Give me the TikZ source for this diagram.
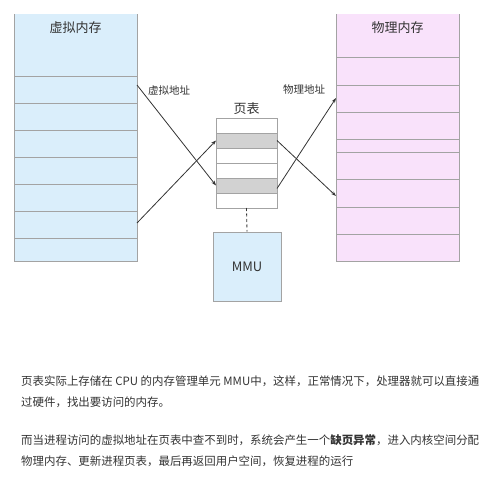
\documentclass[tikz,border=0pt]{standalone}
\usepackage{fontspec}
\setmainfont{Noto Sans CJK SC}
\usetikzlibrary{arrows.meta,calc}
\definecolor{vblue}{HTML}{DAEEFB}
\definecolor{ppink}{HTML}{F9E2FB}
\definecolor{bgray}{HTML}{A3A3A3}
\definecolor{rgray}{HTML}{D2D2D2}
\definecolor{txt}{HTML}{333333}
\tikzset{
  membox/.style={inner sep=0pt, outer sep=0pt},
  divline/.style={draw=bgray, line width=0.9pt},
  ptrow/.style={draw=bgray, line width=0.8pt, fill=white, minimum width=61pt, minimum height=15pt, inner sep=0pt, outer sep=0pt},
  ptgray/.style={ptrow, fill=rgray},
  arr/.style={draw=txt, line width=0.8pt, -{Stealth[length=5pt,width=3.6pt]}},
  title/.style={font=\fontsize{13}{15}\selectfont, text=txt, inner sep=0pt},
  lbl/.style={font=\fontsize{10.5}{12}\selectfont, text=txt, inner sep=0pt},
  para/.style={font=\fontsize{11.45}{14}\selectfont, text=txt, anchor=west, inner sep=0pt},
}
\begin{document}
\begin{tikzpicture}[x=1pt,y=-1pt]
\useasboundingbox (0,0) rectangle (498,495);
% virtual memory
\fill[vblue] (14,14) rectangle (137,261);
\draw[divline] (14,14) -- (14,261) -- (137,261) -- (137,14);
\foreach \y in {76,103,130,157,184,211,238} \draw[divline] (14,\y) -- (137,\y);
\node[title] (vmt) at (75.5,28) {虚拟内存};
% physical memory
\fill[ppink] (336,14) rectangle (459,261);
\draw[divline] (336,14) -- (336,261) -- (459,261) -- (459,14);
\foreach \y in {57,85,112,139,152,179,207,234} \draw[divline] (336,\y) -- (459,\y);
\node[title] (pmt) at (397.5,28) {物理内存};
% page table
\node[ptrow]  (pt1) at (246.5,125.5) {};
\node[ptgray] (pt2) at (246.5,140.5) {};
\node[ptrow]  (pt3) at (246.5,155.5) {};
\node[ptrow]  (pt4) at (246.5,170.5) {};
\node[ptgray] (pt5) at (246.5,185.5) {};
\node[ptrow]  (pt6) at (246.5,200.5) {};
\node[title] (ptt) at (246.5,108.5) {页表};
% MMU
\node[draw=bgray, line width=0.8pt, fill=vblue, minimum width=68pt, minimum height=69pt, inner sep=0pt, font=\fontsize{13}{15}\selectfont, text=txt] (mmu) at (247,266.5) {MMU};
\draw[draw=txt, line width=0.8pt, dashed, dash pattern=on 3pt off 2.5pt] (pt6.south) -- (mmu.north);
% arrow endpoints
\coordinate (va1) at (137,85);
\coordinate (va2) at (137,223);
\coordinate (pa1) at (336,196);
\coordinate (pa2) at (336,98);
\draw[arr] (va1) -- (pt5.west);
\draw[arr] (va2) -- (pt2.west);
\draw[arr] (pt2.east) -- (pa1);
\draw[arr] ($(pt5.east)+(0,3)$) -- (pa2);
\node[lbl] (vlbl) at (169,91) {虚拟地址};
\node[lbl] (plbl) at (304,90) {物理地址};
% paragraphs
\node[para] (l1) at (21,381) {页表实际上存储在 CPU 的内存管理单元 MMU中，这样，正常情况下，处理器就可以直接通};
\node[para] (l2) at (21,402.5) {过硬件，找出要访问的内存。};
\node[para] (l3) at (21,440) {而当进程访问的虚拟地址在页表中查不到时，系统会产生一个\textbf{缺页异常}，进入内核空间分配};
\node[para] (l4) at (21,461.5) {物理内存、更新进程页表，最后再返回用户空间，恢复进程的运行};
\end{tikzpicture}
\end{document}
